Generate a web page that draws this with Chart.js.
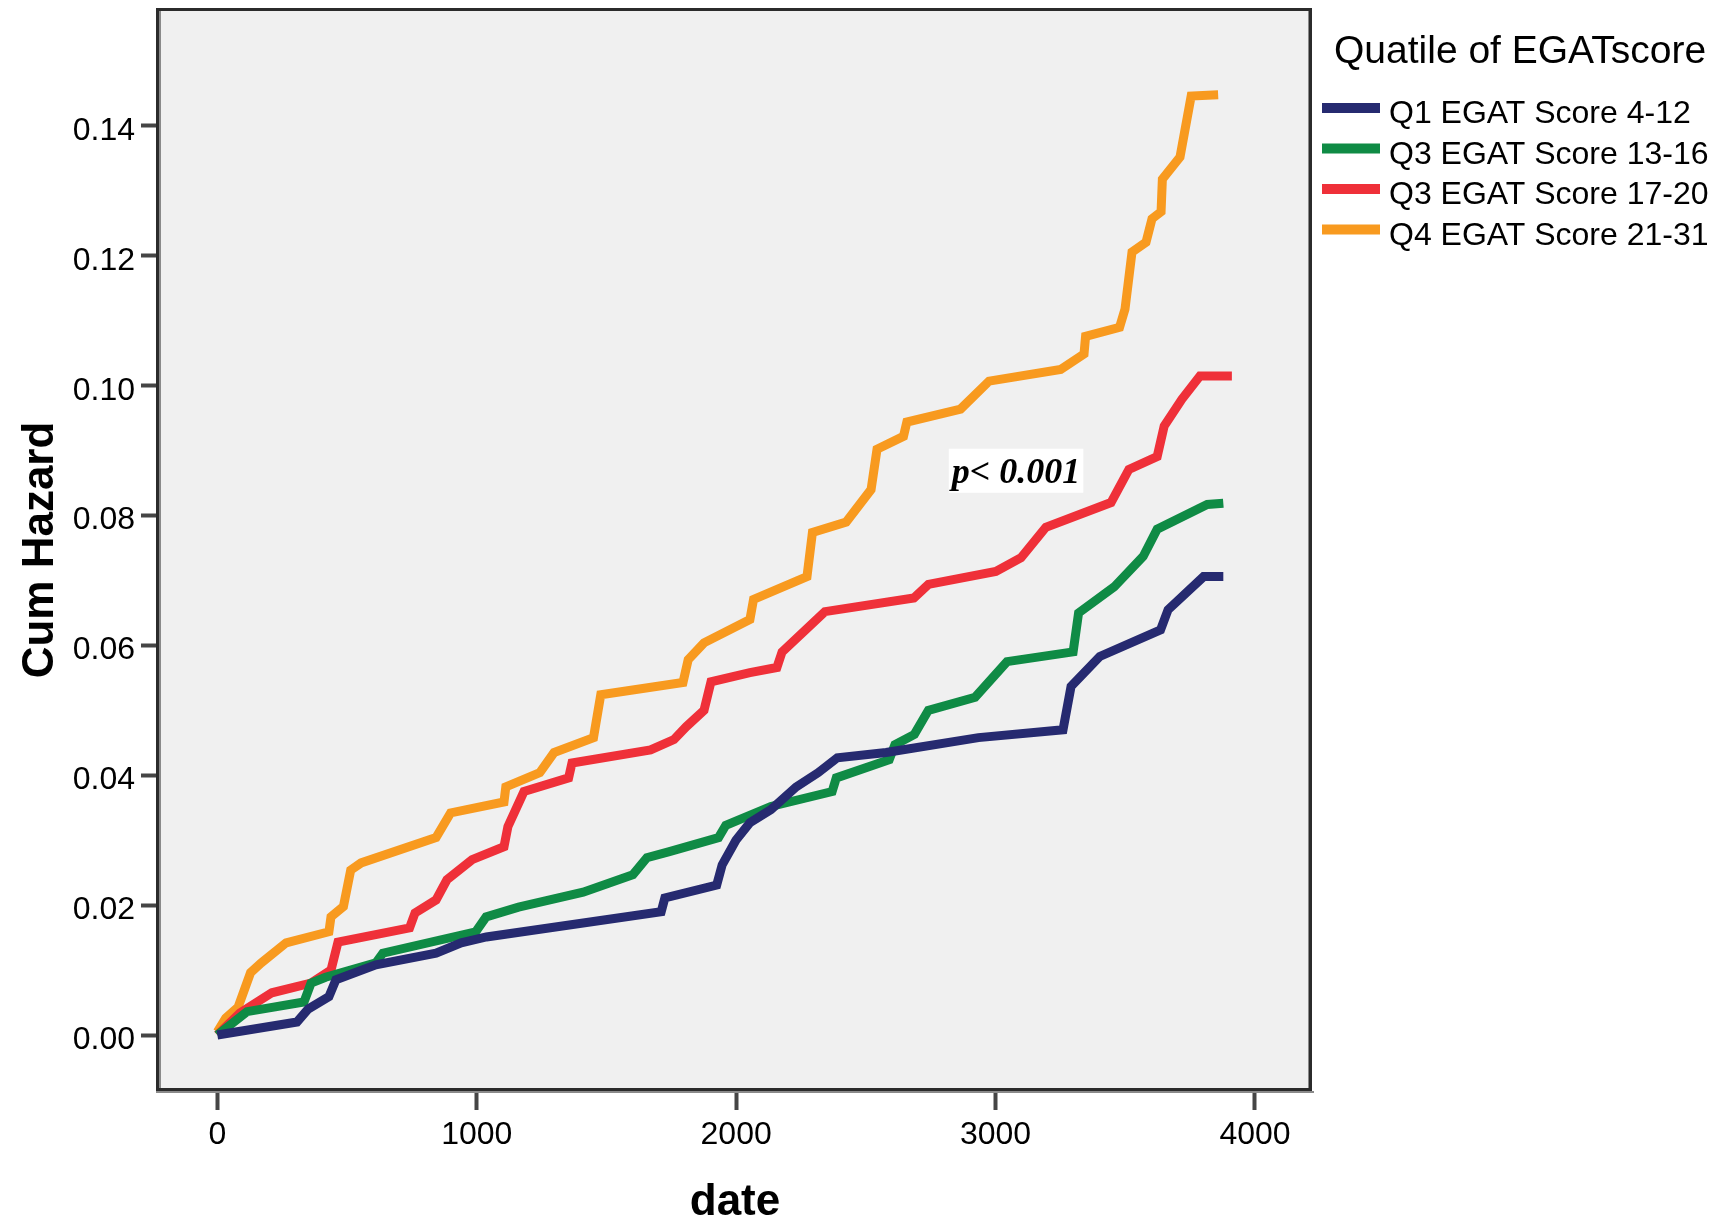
<!DOCTYPE html>
<html>
<head>
<meta charset="utf-8">
<title>Cum Hazard by EGAT score quartile</title>
<script src="https://cdn.jsdelivr.net/npm/chart.js@4.4.1/dist/chart.umd.min.js"></script>
<style>
  html, body { margin: 0; padding: 0; background: #fff; }
  #wrap { width: 1724px; height: 1220px; }
</style>
</head>
<body>
<div id="wrap"><canvas id="chart" width="1724" height="1220"></canvas></div>
<script>
// values
var legendTitle = 'Quatile of EGATscore';
var seriesLabels = ['Q1 EGAT Score 4-12', 'Q3 EGAT Score 13-16', 'Q3 EGAT Score 17-20', 'Q4 EGAT Score 21-31'];
var seriesColors = ['#262a70', '#0f8b45', '#ef3039', '#f89a1f'];

var q1Days = [0, 307, 350, 430, 457, 611, 843, 940, 1037, 1711, 1725, 1925, 1946, 1999, 2053, 2134, 2231, 2316, 2390, 2578, 2934, 3260, 3291, 3402, 3636, 3665, 3802, 3878];
var q1Hazard = [0, 0.002, 0.004, 0.0059, 0.0085, 0.0108, 0.0126, 0.0142, 0.0151, 0.019, 0.0211, 0.0231, 0.0262, 0.030, 0.0327, 0.0347, 0.0382, 0.0404, 0.0427, 0.0435, 0.0458, 0.047, 0.0537, 0.0583, 0.0624, 0.0655, 0.0706, 0.0706];

var q2Days = [0, 114, 334, 361, 417, 611, 638, 996, 1036, 1161, 1410, 1602, 1656, 1739, 1932, 1960, 2134, 2370, 2386, 2590, 2612, 2687, 2741, 2921, 3044, 3299, 3320, 3457, 3569, 3623, 3816, 3878];
var q2Hazard = [0, 0.0036, 0.0051, 0.008, 0.0089, 0.0111, 0.0126, 0.0159, 0.0182, 0.0197, 0.022, 0.0247, 0.0273, 0.0282, 0.0304, 0.0323, 0.0352, 0.0375, 0.0396, 0.0424, 0.0447, 0.0463, 0.050, 0.052, 0.0575, 0.059, 0.065, 0.069, 0.0737, 0.0779, 0.0817, 0.0819];

var q3Days = [0, 87, 210, 361, 438, 465, 741, 762, 843, 885, 982, 1105, 1120, 1182, 1354, 1367, 1670, 1760, 1808, 1876, 1903, 2053, 2157, 2177, 2342, 2685, 2741, 3001, 3098, 3194, 3445, 3514, 3623, 3650, 3718, 3788, 3911];
var q3Hazard = [0, 0.0034, 0.0065, 0.008, 0.010, 0.0143, 0.0165, 0.0188, 0.0208, 0.0239, 0.027, 0.029, 0.0321, 0.0375, 0.0396, 0.0419, 0.0439, 0.0455, 0.0475, 0.050, 0.0544, 0.0558, 0.0566, 0.059, 0.0652, 0.0673, 0.0694, 0.0714, 0.0735, 0.0782, 0.082, 0.0871, 0.0891, 0.0938, 0.0979, 0.1015, 0.1015];

var q4Days = [0, 32, 80, 128, 169, 265, 430, 438, 486, 514, 554, 843, 899, 1105, 1112, 1243, 1298, 1450, 1478, 1795, 1815, 1876, 2053, 2067, 2273, 2294, 2424, 2520, 2543, 2645, 2658, 2865, 2975, 3251, 3341, 3347, 3478, 3499, 3526, 3580, 3603, 3638, 3643, 3711, 3754, 3858];
var q4Hazard = [0.0005, 0.0026, 0.0043, 0.0096, 0.0111, 0.0142, 0.0159, 0.0182, 0.0198, 0.0254, 0.0265, 0.0304, 0.0342, 0.0359, 0.0382, 0.0404, 0.0435, 0.0458, 0.0524, 0.0543, 0.0578, 0.0604, 0.064, 0.0671, 0.0706, 0.0774, 0.079, 0.084, 0.0902, 0.0922, 0.0944, 0.0964, 0.1007, 0.1025, 0.1049, 0.1076, 0.109, 0.1118, 0.1206, 0.1221, 0.1257, 0.1268, 0.1318, 0.1352, 0.1446, 0.1448];

var xTicks = [0, 1000, 2000, 3000, 4000];
var yTicks = [0, 0.02, 0.04, 0.06, 0.08, 0.10, 0.12, 0.14];

var pNote = 'p< 0.001';
var pNoteDay = 3079;
var pNoteHazard = 0.0869;

var allDays = [q1Days, q2Days, q3Days, q4Days];
var allHazard = [q1Hazard, q2Hazard, q3Hazard, q4Hazard];

var sans = "'Liberation Sans', Arial, sans-serif";

function toPoints(days, hazard) {
    return days.map(function(d, i) { return { x: d, y: hazard[i] }; });
}

var datasets = seriesLabels.map(function(label, i) {
    return {
        label: label,
        data: toPoints(allDays[i], allHazard[i]),
        borderColor: seriesColors[i],
        backgroundColor: seriesColors[i],
        borderWidth: 9,
        pointRadius: 0,
        tension: 0,
        fill: false
    };
});

// grey plot panel and dark frame
var framePlugin = {
    id: 'frame',
    beforeDraw: function(chart) {
        var a = chart.chartArea, ctx = chart.ctx;
        ctx.save();
        ctx.fillStyle = '#f0f0f0';
        ctx.fillRect(a.left, a.top, a.right - a.left, a.bottom - a.top);
        ctx.restore();
    },
    afterDatasetsDraw: function(chart) {
        var a = chart.chartArea, ctx = chart.ctx;
        ctx.save();
        ctx.strokeStyle = '#8a8a8a';
        ctx.lineWidth = 2;
        ctx.beginPath();
        ctx.moveTo(a.left + 1, a.top); ctx.lineTo(a.left + 1, a.bottom);
        ctx.moveTo(a.right - 2, a.top); ctx.lineTo(a.right - 2, a.bottom);
        ctx.moveTo(a.left - 3, a.bottom + 2); ctx.lineTo(a.right + 3, a.bottom + 2);
        ctx.stroke();
        ctx.strokeStyle = '#2b2b2b';
        ctx.lineWidth = 3;
        ctx.strokeRect(a.left - 1.5, a.top - 0.5, a.right - a.left + 1, a.bottom - a.top);
        ctx.restore();
    }
};

// p value box and the legend on the right
var notesPlugin = {
    id: 'notes',
    afterDraw: function(chart) {
        var ctx = chart.ctx;
        var px = chart.scales.x.getPixelForValue(pNoteDay);
        var py = chart.scales.y.getPixelForValue(pNoteHazard);
        ctx.save();
        ctx.font = "italic bold 36px 'Liberation Serif', 'Times New Roman', serif";
        var w = ctx.measureText(pNote).width;
        ctx.fillStyle = '#ffffff';
        ctx.fillRect(px - w / 2 - 3, py - 22, w + 6, 44);
        ctx.fillStyle = '#000';
        ctx.textAlign = 'center';
        ctx.textBaseline = 'alphabetic';
        ctx.fillText(pNote, px, py + 12);

        ctx.textAlign = 'left';
        ctx.font = '39px ' + sans;
        ctx.fillText(legendTitle, 1334, 63);
        ctx.font = '32px ' + sans;
        chart.data.datasets.forEach(function(ds, i) {
            var y = 108 + i * 40.5;
            ctx.strokeStyle = ds.borderColor;
            ctx.lineWidth = 10;
            ctx.beginPath();
            ctx.moveTo(1322, y);
            ctx.lineTo(1380, y);
            ctx.stroke();
            ctx.fillStyle = '#000';
            ctx.fillText(ds.label, 1389, y + 15);
        });
        ctx.restore();
    }
};

new Chart(document.getElementById('chart'), {
    type: 'line',
    data: { datasets: datasets },
    options: {
        responsive: false,
        animation: false,
        layout: { padding: { top: 10, right: 413, bottom: 0, left: 0 } },
        plugins: {
            legend: { display: false },
            tooltip: { enabled: false }
        },
        scales: {
            x: {
                type: 'linear',
                min: -225,
                max: 4216,
                afterBuildTicks: function(scale) {
                    scale.ticks = xTicks.map(function(v) { return { value: v }; });
                },
                afterFit: function(scale) {
                    scale.height = 130;
                    scale.paddingLeft = 0;
                    scale.paddingRight = 0;
                },
                border: { display: false },
                grid: { drawOnChartArea: false, drawTicks: true, tickLength: 20, tickWidth: 4, tickColor: '#454545' },
                ticks: {
                    padding: 6,
                    maxRotation: 0,
                    color: '#000',
                    font: { family: sans, size: 32 },
                    callback: function(v) { return String(v); }
                },
                title: {
                    display: true,
                    text: 'date',
                    color: '#000',
                    padding: 0,
                    font: { family: sans, size: 44, weight: 'bold', lineHeight: 0.8 }
                }
            },
            y: {
                type: 'linear',
                min: -0.00847,
                max: 0.15786,
                afterBuildTicks: function(scale) {
                    scale.ticks = yTicks.map(function(v) { return { value: v }; });
                },
                afterFit: function(scale) {
                    scale.width = 159;
                    scale.paddingTop = 0;
                    scale.paddingBottom = 0;
                },
                border: { display: false },
                grid: { drawOnChartArea: false, drawTicks: true, tickLength: 18, tickWidth: 4, tickColor: '#454545' },
                ticks: {
                    padding: 6,
                    labelOffset: 5,
                    color: '#000',
                    font: { family: sans, size: 32 },
                    callback: function(v) { return v.toFixed(2); }
                },
                title: {
                    display: true,
                    text: 'Cum Hazard',
                    color: '#000',
                    padding: { top: 14, bottom: 0 },
                    font: { family: sans, size: 44, weight: 'bold', lineHeight: 1.2 }
                }
            }
        }
    },
    plugins: [framePlugin, notesPlugin]
});
</script>
</body>
</html>
